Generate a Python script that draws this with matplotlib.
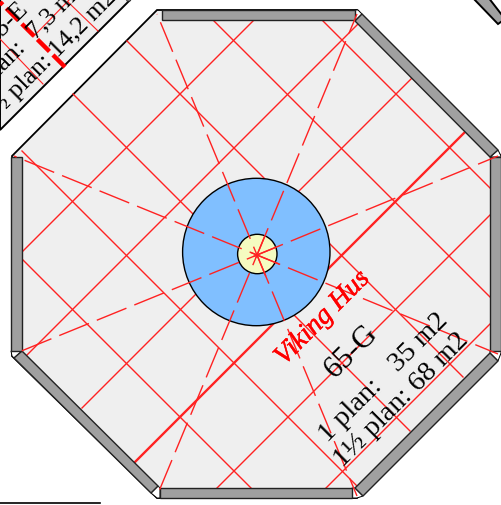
from __future__ import annotations

import matplotlib

matplotlib.use("Agg")
import matplotlib.patheffects as effects
import matplotlib.pyplot as plt
from matplotlib.patches import Circle, Polygon

plt.rcParams["lines.scale_dashes"] = False
plt.rcParams["font.family"] = ["Liberation Serif", "DejaVu Serif"]

PX = 0.72  # one pixel in points at dpi 100
RED = "#ff2222"

octagon = [(157, 11), (357, 11), (501, 157), (501, 354), (357, 499), (157, 499), (12, 357), (12, 157)]
walls = [
    [(162, 11), (355, 11), (355, 21), (162, 21)],
    [(362, 15), (498, 151), (490, 158), (355, 22)],
    [(490, 158), (501, 158), (501, 352), (490, 352)],
    [(490, 354), (498, 362), (363, 497), (355, 489)],
    [(160, 489), (352, 489), (352, 499), (160, 499)],
    [(158, 487), (151, 494), (14, 359), (22, 352)],
    [(11, 158), (22, 158), (22, 352), (11, 352)],
]
# small white gaps where two walls meet
corners = [
    [(355, 11), (358, 11), (362, 15), (355, 22)],
    [(498, 151), (501, 157), (501, 158), (490, 158)],
    [(490, 352), (501, 352), (501, 354), (498, 362), (490, 354)],
    [(352, 489), (355, 489), (363, 497), (357, 499), (352, 499)],
    [(158, 487), (160, 489), (160, 499), (157, 499), (151, 494)],
    [(11, 352), (22, 352), (14, 359), (12, 357)],
]

# grid lines, x + y = c
slash_c = [275, 383, 491, 598, 706, 815]
slash_x0 = [253, 361, 412, 465, 490, 490]
slash_x1 = [22, 22, 82, 135, 212, 326]
slash_width = [1.0, 1.0, 1.0, 1.7, 1.0, 1.0]

# grid lines, y - x = d
back_d = [-301, -192, -85, 22, 130, 238]
back_x0 = [322, 213, 127, 73, 22, 22]
back_x1 = [490, 490, 463, 410, 357, 253]

center = (257, 256)
spoke_outer = [(157, 15), (357, 15), (498, 157), (498, 355), (357, 497), (157, 497), (14, 355), (14, 157)]
# how far each spoke runs past the centre
spoke_past = [23, 3, 4, 7, 1, 21, 21, 24]

main_labels = ["65-G", "1 plan:   35 m2", "1\u00bd plan: 68 m2"]
main_starts = [(335, 379), (328, 443), (343, 468)]
main_sizes = [22, 20.5, 20.5]
side_labels = ["65-E", "1 plan:  7,3 m2", "1\u00bd plan: 14,2 m2"]
side_starts = [(-6, 45), (-24, 99), (-11, 126)]

fig = plt.figure(figsize=(5.01, 5.06), dpi=100)
ax = fig.add_axes([0, 0, 1, 1])
ax.set_xlim(0, 501)
ax.set_ylim(506, 0)
ax.axis("off")

# neighbouring plots at the edges
ax.add_patch(Polygon([(0, 0), (131, 0), (0, 131)], facecolor="#efefef", edgecolor="black", lw=1.4, zorder=1))
ax.add_patch(Polygon([(125, -3), (132, -3), (130, 2), (127, 2)], facecolor="#a0a0a0", edgecolor="#333333", lw=0.7, zorder=1))
ax.add_patch(Polygon([(472, -2), (498, 25), (505, 20), (488, -2)], facecolor="#a0a0a0", edgecolor="black", lw=1.4, zorder=1))
ax.plot([0, 100], [504, 504], color="black", lw=1.2, zorder=1)
ax.plot([43, 0], [85, 40], color=RED, lw=0.8, zorder=2)
ax.plot([98, 68], [32, 3], color=RED, lw=0.8, zorder=2)
ax.plot([70, 33], [0, 38], color=RED, lw=0.8, zorder=2)
ax.plot([65, 0], [68, 3], color="red", lw=3.2, dashes=(17 * PX, 5 * PX), zorder=2)

ax.add_patch(Polygon(octagon, facecolor="#efefef", edgecolor="black", lw=1.3, zorder=1))

for c, x0, x1, width in zip(slash_c, slash_x0, slash_x1, slash_width):
    ax.plot([x0, x1], [c - x0, c - x1], color=RED, lw=width, zorder=2)
for d, x0, x1 in zip(back_d, back_x0, back_x1):
    ax.plot([x0, x1], [x0 + d, x1 + d], color=RED, lw=1.0, zorder=2)

for corner in corners:
    ax.add_patch(Polygon(corner, facecolor="white", edgecolor="black", lw=0.7, zorder=3))
for wall in walls:
    ax.add_patch(Polygon(wall, facecolor="#a0a0a0", edgecolor="#222222", lw=1.0, zorder=3))

ax.add_patch(Circle((256.3, 253), 73.7, facecolor="#80bfff", edgecolor="black", lw=1.0, zorder=4))
ax.add_patch(Circle((257.3, 255), 19.7, facecolor="#f5fbc0", edgecolor="black", lw=1.0, zorder=5))

for (ox, oy), past in zip(spoke_outer, spoke_past):
    dx, dy = ox - center[0], oy - center[1]
    length = (dx * dx + dy * dy) ** 0.5
    sx = center[0] - dx / length * past
    sy = center[1] - dy / length * past
    # dash phase counts from the inner end
    ax.plot([sx, ox], [sy, oy], color=RED, lw=1.0, dashes=(32 * PX, 8.5 * PX), dash_capstyle="butt", zorder=6)

text_style = {"rotation": 45, "rotation_mode": "anchor", "ha": "left", "va": "baseline", "color": "black", "zorder": 7}
for label, (x, y), size in zip(main_labels, main_starts, main_sizes):
    ax.text(x, y, label, fontsize=size, **text_style)
for label, (x, y) in zip(side_labels, side_starts):
    ax.text(x, y, label, fontsize=18.5, clip_on=True, **text_style)

ax.text(284, 367, "Viking Hus", fontsize=20, style="italic", color="red", zorder=7,
        rotation=45, rotation_mode="anchor", ha="left", va="baseline",
        path_effects=[effects.withStroke(linewidth=0.3, foreground="red")])

fig.savefig("out.png", dpi=100)
